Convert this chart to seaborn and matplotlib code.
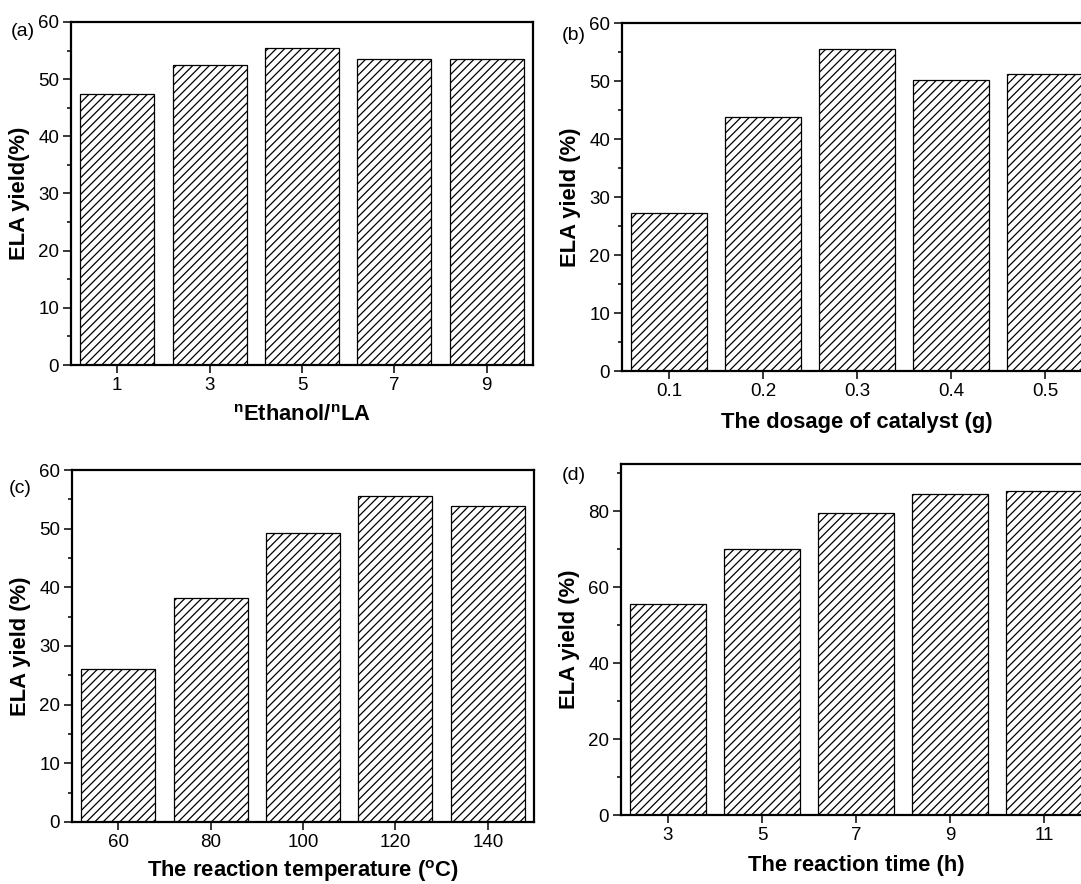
import matplotlib
matplotlib.use("Agg")
import matplotlib.pyplot as plt
import seaborn as sns
import pandas as pd
from matplotlib.ticker import MultipleLocator, FormatStrFormatter

# ---------------- data ----------------
ratio_x = [1, 3, 5, 7, 9]
ratio_y = [47.4, 52.4, 55.5, 53.6, 53.5]

dosage_x = [0.1, 0.2, 0.3, 0.4, 0.5]
dosage_y = [27.3, 43.8, 55.6, 50.1, 51.2]

temp_x = [60, 80, 100, 120, 140]
temp_y = [26.1, 38.2, 49.3, 55.6, 53.8]

time_x = [3, 5, 7, 9, 11]
time_y = [55.6, 69.9, 79.6, 84.4, 85.3]

# ---------------- style ----------------
sns.set_style("ticks")
plt.rcParams["font.family"] = ["Liberation Sans", "DejaVu Sans"]
plt.rcParams["mathtext.fontset"] = "custom"
plt.rcParams["mathtext.rm"] = "Liberation Sans"
plt.rcParams["mathtext.bf"] = "Liberation Sans:bold"
plt.rcParams["hatch.linewidth"] = 0.9
plt.rcParams["text.color"] = "black"
plt.rcParams["axes.labelcolor"] = "black"
plt.rcParams["xtick.color"] = "black"
plt.rcParams["ytick.color"] = "black"

W, H = 1081, 884
fig = plt.figure(figsize=(W / 100, H / 100), dpi=100)
fig.patch.set_facecolor("white")


def make_ax(left, right, top, bottom):
    return fig.add_axes([left / W, 1 - bottom / H, (right - left) / W, (bottom - top) / H])


panels = [
    dict(box=(71, 533, 22, 365), x=ratio_x, y=ratio_y, xlim=(0, 10), ylim=(0, 60),
         major=10, minor=5, ylabel="ELA yield(%)",
         xlabel=r"$\mathbf{{}^{n}Ethanol/{}^{n}LA}$", tag="(a)", tagpos=(11, 31),
         fmt=None, xpad=8),
    dict(box=(622, 1092, 23, 371), x=dosage_x, y=dosage_y, xlim=(0.05, 0.55), ylim=(0, 60),
         major=10, minor=5, ylabel="ELA yield (%)",
         xlabel="The dosage of catalyst (g)", tag="(b)", tagpos=(562, 35),
         fmt="%.1f", xpad=9),
    dict(box=(72, 534, 470, 822), x=temp_x, y=temp_y, xlim=(50, 150), ylim=(0, 60),
         major=10, minor=5, ylabel="ELA yield (%)",
         xlabel=r"The reaction temperature $\mathregular{(^{o}}$C$\mathregular{)}$",
         tag="(c)", tagpos=(9, 488), fmt=None, xpad=5),
    dict(box=(621, 1091, 464, 815), x=time_x, y=time_y, xlim=(2, 12), ylim=(0, 92.4),
         major=20, minor=10, ylabel="ELA yield (%)",
         xlabel="The reaction time (h)", tag="(d)", tagpos=(562, 475),
         fmt=None, xpad=8),
]

for p in panels:
    ax = make_ax(*p["box"])
    df = pd.DataFrame({"x": p["x"], "y": p["y"]})
    sns.barplot(data=df, x="x", y="y", native_scale=True, color="white",
                edgecolor="black", linewidth=0.9, hatch="////", width=0.8,
                saturation=1, errorbar=None, ax=ax)
    ax.set_xlim(*p["xlim"])
    ax.set_ylim(*p["ylim"])
    ax.set_xticks(p["x"])
    if p["fmt"]:
        ax.xaxis.set_major_formatter(FormatStrFormatter(p["fmt"]))
    ax.yaxis.set_major_locator(MultipleLocator(p["major"]))
    ax.yaxis.set_minor_locator(MultipleLocator(p["minor"]))
    for s in ax.spines.values():
        s.set_visible(True)
        s.set_linewidth(1.6)
        s.set_color("black")
    ax.tick_params(axis="both", which="major", direction="out", length=5.5, width=1.1,
                   labelsize=13.5, colors="black", pad=3)
    ax.tick_params(axis="y", which="minor", direction="out", length=3, width=1.1, colors="black")
    ax.tick_params(axis="x", which="minor", bottom=False)
    ax.set_xlabel(p["xlabel"], fontsize=15.8, fontweight="bold", labelpad=p["xpad"],
                  color="black")
    ax.set_ylabel(p["ylabel"], fontsize=15.8, fontweight="bold", labelpad=6, color="black")
    ax.set_facecolor("white")
    fig.text(p["tagpos"][0] / W, 1 - p["tagpos"][1] / H, p["tag"], fontsize=14,
             ha="left", va="center", color="black")

fig.savefig("out.png", dpi=100, facecolor="white")
